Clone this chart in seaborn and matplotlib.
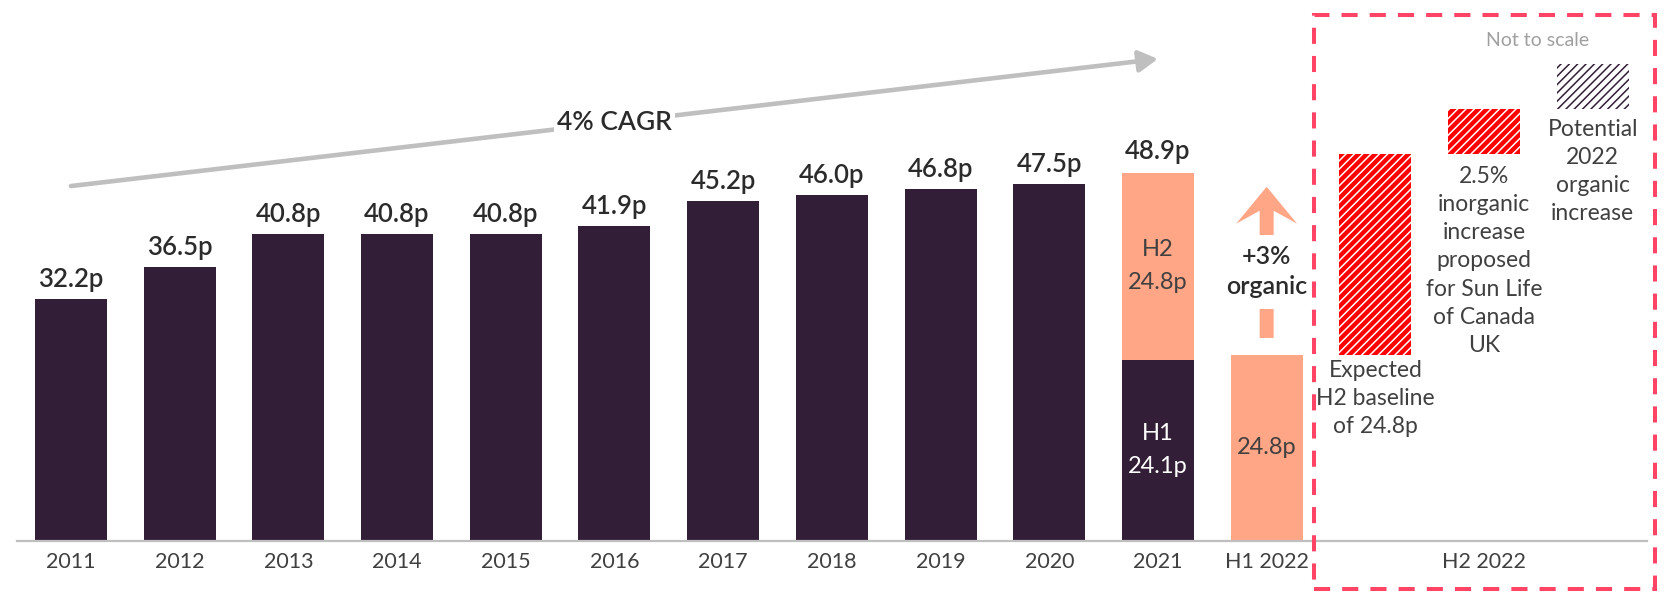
import matplotlib
matplotlib.use("Agg")
import matplotlib.pyplot as plt
from matplotlib.patches import Rectangle, FancyArrow
import seaborn as sns
import pandas as pd

# ---- data -------------------------------------------------------------
years = ["2011", "2012", "2013", "2014", "2015", "2016", "2017", "2018", "2019", "2020"]
annual_dividend = [32.2, 36.5, 40.8, 40.8, 40.8, 41.9, 45.2, 46.0, 46.8, 47.5]

dividend_2021_h1 = 24.1
dividend_2021_h2 = 24.8
dividend_2021_total = 48.9
dividend_2022_h1 = 24.8

# H2 2022 build-up (illustrative, not to scale)
h2_2022_steps = ["H2 baseline", "H2 inorganic", "H2 organic"]
h2_2022_step_heights = [26.7, 5.9, 6.0]
h2_2022_step_texts = [
    "Expected\nH2 baseline\nof 24.8p",
    "2.5%\ninorganic\nincrease\nproposed\nfor Sun Life\nof Canada\nUK",
    "Potential\n2022\norganic\nincrease",
]

slots = years + ["2021", "H1 2022"] + h2_2022_steps
tick_labels = years + ["2021", "H1 2022", "", "H2 2022", ""]

# ---- style ------------------------------------------------------------
DARK = "#331E37"
SALMON = "#FFA687"
RED = "#FF0000"
BOX_RED = "#FF4466"
GREY_LINE = "#BFBFBF"
TEXT = "#2B2B2B"
TEXT_SOFT = "#404040"

sns.set_style("white")
plt.rcParams["font.family"] = ["Lato", "DejaVu Sans"]
plt.rcParams["hatch.linewidth"] = 1.1

fig = plt.figure(figsize=(16.65, 5.92), dpi=100)
ax = fig.add_axes([16.6 / 1665, 51 / 592, 1630.5 / 1665, 541 / 592])

BAR_W = 0.662

# salmon totals first (2021 full year, H1 2022), dark H1/annual bars on top
salmon_df = pd.DataFrame({"period": ["2021", "H1 2022"],
                          "dividend": [dividend_2021_total, dividend_2022_h1]})
sns.barplot(data=salmon_df, x="period", y="dividend", order=slots, color=SALMON,
            saturation=1, width=BAR_W, linewidth=0, ax=ax)

dark_df = pd.DataFrame({"period": years + ["2021"],
                        "dividend": annual_dividend + [dividend_2021_h1]})
sns.barplot(data=dark_df, x="period", y="dividend", order=slots, color=DARK,
            saturation=1, width=BAR_W, linewidth=0, ax=ax)

# H2 2022 waterfall with hatching
pos = [slots.index(s) for s in h2_2022_steps]
bottoms = []
run = dividend_2022_h1
for h in h2_2022_step_heights:
    bottoms.append(run)
    run += h
step_bars = ax.bar(pos, h2_2022_step_heights, bottom=bottoms, width=BAR_W, linewidth=0)
face = [RED, RED, "white"]
hatch_col = ["white", "white", DARK]
for bar, fc, hc in zip(step_bars, face, hatch_col):
    bar.set_facecolor(fc)
    bar.set_edgecolor(hc)
    bar.set_linewidth(0)
    bar.set_hatch("////")

# ---- axes -------------------------------------------------------------
ax.set_xlim(-0.5, 14.5)
ax.set_ylim(0, 71.94)
ax.set_xlabel("")
ax.set_ylabel("")
ax.set_yticks([])
ax.set_xticks(range(len(slots)))
ax.set_xticklabels(tick_labels, fontsize=15.5, color=TEXT_SOFT)
ax.tick_params(axis="x", length=0, pad=8)
for side in ["top", "right", "left"]:
    ax.spines[side].set_visible(False)
ax.spines["bottom"].set_color(GREY_LINE)
ax.spines["bottom"].set_linewidth(1.6)

# ---- value labels -----------------------------------------------------
VAL_FS = 18.5
for i, v in enumerate(annual_dividend):
    ax.annotate(f"{v:.1f}p", (i, v), xytext=(0, 8.5), textcoords="offset points",
                ha="center", va="baseline", fontsize=VAL_FS, fontweight="semibold", color=TEXT)
i21 = slots.index("2021")
ax.annotate(f"{dividend_2021_total:.1f}p", (i21, dividend_2021_total), xytext=(0, 10),
            textcoords="offset points", ha="center", va="baseline",
            fontsize=VAL_FS, fontweight="semibold", color=TEXT)
ax.text(i21, 38.8, "H2", ha="center", va="center", fontsize=17, color=TEXT_SOFT)
ax.text(i21, 34.4, f"{dividend_2021_h2:.1f}p", ha="center", va="center",
        fontsize=17, color=TEXT_SOFT)
ax.text(i21, 14.3, "H1", ha="center", va="center", fontsize=17, color="white")
ax.text(i21, 9.9, f"{dividend_2021_h1:.1f}p", ha="center", va="center",
        fontsize=17, color="white")
i22 = slots.index("H1 2022")
ax.text(i22, dividend_2022_h1 / 2, f"{dividend_2022_h1:.1f}p",
        ha="center", va="center", fontsize=17, color=TEXT_SOFT)

# ---- CAGR arrow -------------------------------------------------------
ax.annotate("", xy=(10.0, 64.1), xytext=(0.0, 47.2),
            arrowprops=dict(arrowstyle="-|>,head_length=1.15,head_width=0.65",
                            mutation_scale=10, color=GREY_LINE, lw=3.3,
                            shrinkA=0, shrinkB=0), zorder=3)
ax.text(5.0, 55.7, "4% CAGR", ha="center", va="center", fontsize=19,
        fontweight="semibold", color=TEXT, zorder=4,
        bbox=dict(boxstyle="square,pad=0.12", fc="white", ec="none"))

# ---- organic growth arrow --------------------------------------------
ax.add_patch(FancyArrow(i22, 27.0, 0, 20.1, width=0.129, head_width=0.56,
                        head_length=4.9, length_includes_head=True, overhang=0.35,
                        color=SALMON, lw=0, zorder=3))
ax.add_patch(Rectangle((i22 - 0.15, 30.9), 0.3, 9.8, fc="white", ec="none", zorder=4))
ax.text(i22, 37.8, "+3%", ha="center", va="center", fontsize=18,
        fontweight="semibold", color=TEXT, zorder=5)
ax.text(i22, 33.8, "organic", ha="center", va="center", fontsize=18,
        fontweight="semibold", color=TEXT, zorder=5)

# ---- H2 2022 panel ----------------------------------------------------
ax.add_patch(Rectangle((11.44, -6.4), 3.13, 76.35, fill=False, ec=BOX_RED,
                       lw=2.9, ls=(0, (4, 3)), clip_on=False, zorder=6))
ax.text(13.49, 66.6, "Not to scale", ha="center", va="center", fontsize=14,
        color="#A0A0A0")
text_centres = [18.95, 37.25, 49.1]
for p, t, yc in zip(pos, h2_2022_step_texts, text_centres):
    ax.text(p, yc, t, ha="center", va="center", fontsize=16.5, color=TEXT_SOFT,
            linespacing=1.42)

fig.savefig("out.png", dpi=100)
